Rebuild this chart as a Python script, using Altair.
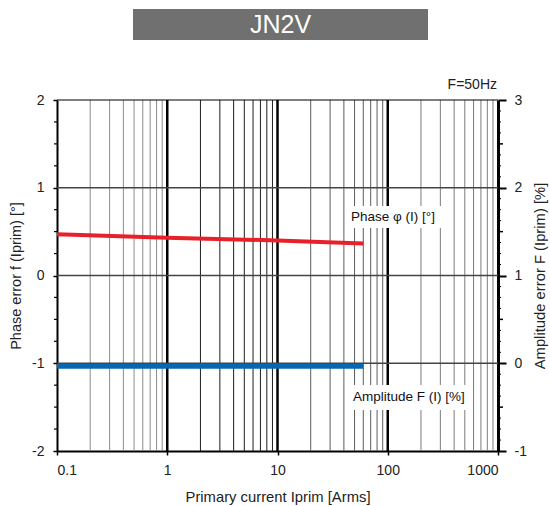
import altair as alt
import pandas as pd

# ---- data ----
phase_x = [0.1, 1, 10, 60]
phase_y = [0.47, 0.43, 0.40, 0.365]
amp_x = [0.1, 1, 10, 60]
amp_y = [-0.035, -0.035, -0.035, -0.035]

x_ticks = [0.1, 1, 10, 100, 1000]
phase_ticks = [-2, -1, 0, 1, 2]
amp_ticks = [-1, 0, 1, 2, 3]
decades = [0.1, 1, 10, 100]
decade_colors = ["#8c8c8c", "#1e1e1e", "#5c5c5c", "#7c7c7c"]
major_lines = [1, 10, 100]

FONT = "Liberation Sans"
TXT = "#222222"

W, H = 441, 351

# ---- tables ----
phase_df = pd.DataFrame({"x": phase_x, "y": phase_y})
amp_df = pd.DataFrame({"x": amp_x, "y": amp_y})

vrows = []
for i, d in enumerate(decades):
    for m in range(2, 10):
        vrows.append({"x": m * d, "c": decade_colors[i], "w": 1.0})
for v in major_lines:
    vrows.append({"x": v, "c": "#000000", "w": 2.5})
vgrid_df = pd.DataFrame(vrows)

hgrid_df = pd.DataFrame({"y": [-1, 0, 1, 2],
                         "c": ["#444444", "#444444", "#444444", "#000000"],
                         "w": [1.6, 1.6, 1.6, 1.2]})

lminor_df = pd.DataFrame({"y": [k / 4 for k in range(-8, 9) if k % 4 != 0]})
rminor_df = pd.DataFrame({"y": [-1 + k / 8 for k in range(0, 33) if k % 8 != 0 and k % 4 != 0]})
rmid_df = pd.DataFrame({"y": [-0.5, 0.5, 1.5, 2.5]})

one = pd.DataFrame({"a": [0]})

xscale = alt.Scale(type="log", domain=[0.1, 1000])
yl = alt.Scale(domain=[-2, 2], nice=False)
yr = alt.Scale(domain=[-1, 3], nice=False)

xaxis = alt.Axis(values=x_ticks, labelExpr="'' + datum.value", grid=False,
                 title="Primary current Iprim [Arms]",
                 domainColor="#000", domainWidth=2, tickColor="#000", tickSize=4, tickWidth=1.5,
                 labelFont=FONT, labelFontSize=14, labelColor=TXT, labelPadding=8,
                 titleFont=FONT, titleFontSize=14.8, titleFontWeight="normal", titleColor=TXT,
                 titleX=W / 2, titleY=50, titleBaseline="alphabetic")

lyaxis = alt.Axis(values=phase_ticks, labelExpr="'' + datum.value", grid=False,
                  title="Phase error f (Iprim) [°]",
                  domainColor="#000", domainWidth=2, tickColor="#000", tickSize=4, tickWidth=1.5,
                  labelFont=FONT, labelFontSize=14, labelColor=TXT, labelPadding=9,
                  titleFont=FONT, titleFontSize=14.5, titleFontWeight="normal", titleColor=TXT,
                  titleAngle=270, titleX=-37, titleY=H / 2, titleAlign="center",
                  titleBaseline="alphabetic")

ryaxis = alt.Axis(values=amp_ticks, labelExpr="'' + datum.value", grid=False, orient="right",
                  title="Amplitude error F (Iprim) [%]",
                  domainColor="#000", domainWidth=3, tickColor="#000", tickSize=8, tickWidth=2,
                  labelFont=FONT, labelFontSize=14, labelColor=TXT, labelPadding=8,
                  titleFont=FONT, titleFontSize=14.8, titleFontWeight="normal", titleColor=TXT,
                  titleAngle=270, titleX=46, titleY=H / 2, titleAlign="center",
                  titleBaseline="alphabetic")

vgrid = alt.Chart(vgrid_df).mark_rule().encode(
    x=alt.X("x:Q", scale=xscale, axis=xaxis),
    color=alt.Color("c:N", scale=None),
    strokeWidth=alt.StrokeWidth("w:Q", scale=None),
)

hgrid = alt.Chart(hgrid_df).mark_rule().encode(
    y=alt.Y("y:Q", scale=yl, axis=lyaxis),
    color=alt.Color("c:N", scale=None),
    strokeWidth=alt.StrokeWidth("w:Q", scale=None),
)

lminor = alt.Chart(lminor_df).mark_rule(color="#000", strokeWidth=1.2).encode(
    y=alt.Y("y:Q", scale=yl), x=alt.value(-3), x2=alt.value(0)
)

red = alt.Chart(phase_df).mark_line(color="#e8202a", strokeWidth=4).encode(
    x=alt.X("x:Q", scale=xscale),
    y=alt.Y("y:Q", scale=yl),
)

box1 = alt.Chart(one).mark_rect(color="white").encode(
    x=alt.value(290), x2=alt.value(391), y=alt.value(106), y2=alt.value(128))
box2 = alt.Chart(one).mark_rect(color="white").encode(
    x=alt.value(290), x2=alt.value(411), y=alt.value(285), y2=alt.value(310))
lab1 = alt.Chart(one).mark_text(text="Phase φ (I) [°]", font=FONT, fontSize=13.5, color="#111",
                                align="left", baseline="middle").encode(
    x=alt.value(294), y=alt.value(117))
lab2 = alt.Chart(one).mark_text(text="Amplitude F (I) [%]", font=FONT, fontSize=13.5, color="#111",
                                align="left", baseline="middle").encode(
    x=alt.value(296), y=alt.value(297))

tbox = alt.Chart(one).mark_rect(color="#707070").encode(
    x=alt.value(76), x2=alt.value(371), y=alt.value(-91), y2=alt.value(-60))
ttxt = alt.Chart(one).mark_text(text="JN2V", font=FONT, fontSize=25, color="white",
                                align="center", baseline="middle").encode(
    x=alt.value(223.5), y=alt.value(-75))
freq = alt.Chart(one).mark_text(text="F=50Hz", font=FONT, fontSize=14, color=TXT,
                                align="right", baseline="middle").encode(
    x=alt.value(440), y=alt.value(-15))

left = alt.layer(vgrid, hgrid, lminor, red, box1, box2, lab1, lab2, tbox, ttxt, freq)

blue = alt.Chart(amp_df).mark_line(color="#0767b0", strokeWidth=5).encode(
    x=alt.X("x:Q", scale=xscale),
    y=alt.Y("y:Q", scale=yr, axis=ryaxis),
)
rminor = alt.Chart(rminor_df).mark_rule(color="#000", strokeWidth=1).encode(
    y=alt.Y("y:Q", scale=yr), x=alt.value(W), x2=alt.value(W + 3))
rmid = alt.Chart(rmid_df).mark_rule(color="#000", strokeWidth=1.5).encode(
    y=alt.Y("y:Q", scale=yr), x=alt.value(W), x2=alt.value(W + 5))
right = alt.layer(blue, rminor, rmid)

chart = alt.layer(left, right).resolve_scale(y="independent").properties(
    width=W, height=H,
    autosize=alt.AutoSizeParams(type="none"),
    padding={"left": 57, "top": 100, "right": 52, "bottom": 55},
    background="white",
).configure_view(stroke=None)

chart.save("out.html", embed_options={"renderer": "svg", "actions": False})
